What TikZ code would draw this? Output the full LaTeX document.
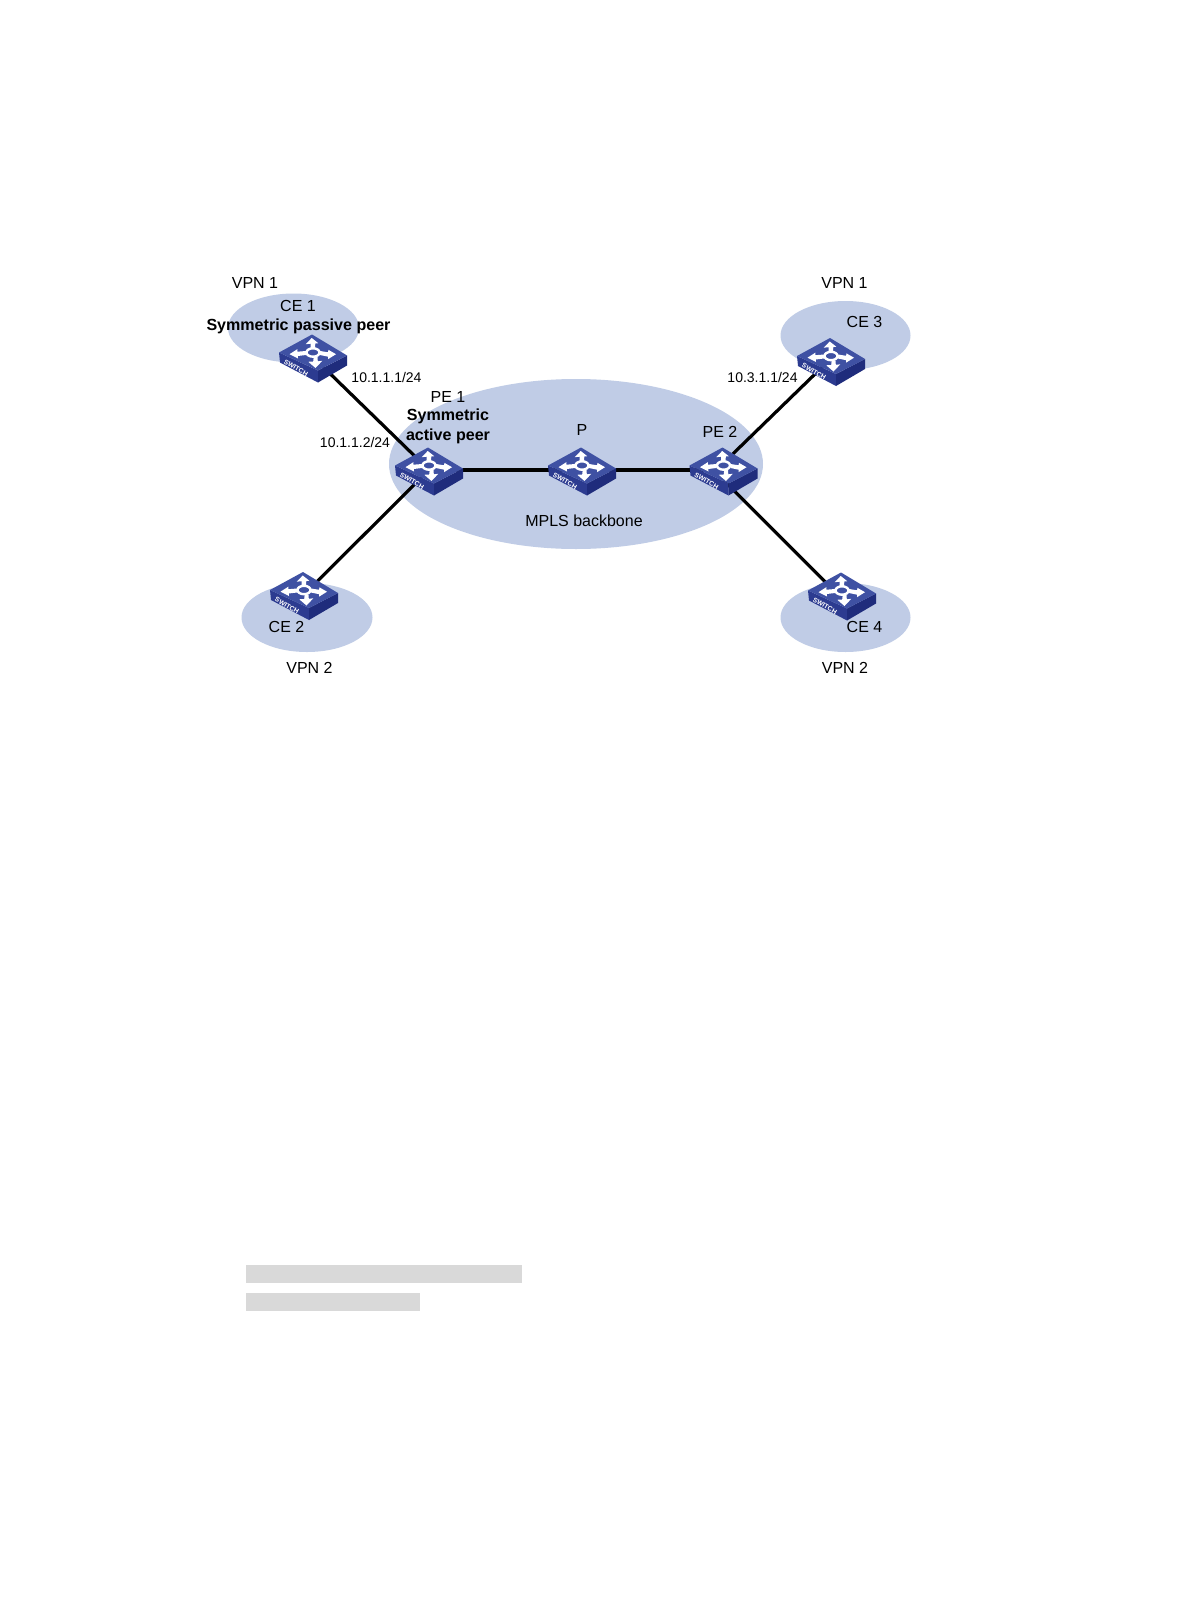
\documentclass[tikz,border=0pt]{standalone}
\usepackage{fontspec}
\setmainfont{Liberation Sans}
\definecolor{cloud}{HTML}{C0CCE6}
\definecolor{swtop}{HTML}{3F51A3}
\definecolor{swleft}{HTML}{2C3B90}
\definecolor{swright}{HTML}{1F2C7C}
\definecolor{barfill}{HTML}{D9D9D9}
\tikzset{
  link/.style={draw=black,line width=2.4pt},
  swnode/.style={shape=coordinate},
  lbl/.style={font=\fontsize{12}{14}\selectfont,inner sep=0pt,text height=9pt,text depth=2pt,align=center,yshift=-1.1pt},
  boldlbl/.style={font=\fontsize{12.05}{14}\selectfont\bfseries,inner sep=0pt,text height=9pt,text depth=2.5pt,yshift=-0.7pt},
  iplbl/.style={font=\fontsize{10.5}{12}\selectfont,inner sep=0pt,text height=8pt,text depth=2pt,yshift=-1pt},
  switch/.pic={
    \begin{scope}[shift={(0,-3.5)}]
    \fill[swleft] (-34,-1) -- (5,17) -- (5,29) -- (-33,9) -- cycle;
    \fill[swright] (34,2) -- (5,17) -- (5,29) -- (34,12) -- cycle;
    \fill[swtop] (-34,-1) -- (-1,-19) -- (34,2) -- (5,17) -- cycle;
    % up
    \fill[white] (-2.3,-5) -- (-2.5,-9.8) -- (-7.3,-9.3) -- (-1.3,-15.5) -- (5.3,-10.3) -- (2.3,-10) -- (2,-5) -- cycle;
    % down
    \fill[white] (0.7,3.5) -- (0.2,8) -- (-4.7,8.3) -- (2.5,14.5) -- (9.3,7.3) -- (4.8,7.8) -- (4.5,3.5) -- cycle;
    % left
    \fill[white] (-7,-2.5) -- (-15.5,-1.8) -- (-15.7,-4.3) -- (-23.5,0.7) -- (-15,5) -- (-15.2,2.5) -- (-7,1.5) -- cycle;
    % right
    \fill[white] (7,-2.5) -- (15.2,-1.2) -- (15.3,-3.7) -- (23,0.7) -- (15,5.7) -- (15,3.2) -- (7,1.5) -- cycle;
    \draw[white,line width=1.8pt] (0,-1) ellipse [x radius=6.5,y radius=4.2];
    \node[rotate=-30,text=white,inner sep=0pt,font=\fontsize{5}{5}\selectfont\bfseries] (-tag) at (-17,14.5) {SWITCH};
    \end{scope}
  }
}
\begin{document}
\begin{tikzpicture}[x=0.75pt,y=-0.75pt]
\useasboundingbox (0,0) rectangle (1190,1616);
\fill[white] (0,0) rectangle (1190,1616);
% clouds
\fill[cloud] (293.5,328) ellipse [x radius=65.5,y radius=34.5];
\fill[cloud] (845.5,335.5) ellipse [x radius=65,y radius=34.5];
\fill[cloud] (307,617.5) ellipse [x radius=65.5,y radius=34.5];
\fill[cloud] (845.5,617.5) ellipse [x radius=65,y radius=34.5];
\fill[cloud] (576,464) ellipse [x radius=187,y radius=85];
% switch positions
\node[swnode] (ce1) at (313,357) {};
\node[swnode] (pe1) at (429,470) {};
\node[swnode] (pc)  at (582,470) {};
\node[swnode] (pe2) at (723.5,470) {};
\node[swnode] (ce3) at (831,360.5) {};
\node[swnode] (ce2) at (304,594.5) {};
\node[swnode] (ce4) at (842,595) {};
% where the outer links really meet the switches
\coordinate (pe2up) at ([shift={(0,-7)}]pe2);
\coordinate (pe2dn) at ([shift={(0,10)}]pe2);
\coordinate (ce3port) at ([shift={(0,-2)}]ce3);
\coordinate (ce4port) at ([shift={(0,3.7)}]ce4);
% links
\draw[link] (ce1) -- (pe1);
\draw[link] (pe1) -- (ce2);
\draw[link] (pe1) -- (pc);
\draw[link] (pc) -- (pe2);
\draw[link] (pe2up) -- (ce3port);
\draw[link] (pe2dn) -- (ce4port);
% switches
\pic (swa) at (ce1) {switch};
\pic (swb) at (pe1) {switch};
\pic (swc) at (pc) {switch};
\pic (swd) at (pe2) {switch};
\pic (swe) at (ce3) {switch};
\pic (swf) at (ce2) {switch};
\pic (swg) at (ce4) {switch};
% labels
\node[lbl] (t1) at (255,282) {VPN 1};
\node[lbl] (t2) at (298,305) {CE 1};
\node[boldlbl] (t3) at (298.5,325) {Symmetric passive peer};
\node[iplbl] (t4) at (386.5,377) {10.1.1.1/24};
\node[lbl] (t5) at (448,396) {PE 1};
\node[boldlbl] (t6) at (448,415.5) {Symmetric};
\node[boldlbl] (t7) at (448,435) {active peer};
\node[iplbl] (t8) at (355,442) {10.1.1.2/24};
\node[lbl] (t9) at (582,429) {P};
\node[lbl] (t10) at (720,431) {PE 2};
\node[lbl] (t11) at (584,520.5) {MPLS backbone};
\node[iplbl] (t12) at (762.5,377) {10.3.1.1/24};
\node[lbl] (t13) at (844.5,282) {VPN 1};
\node[lbl] (t14) at (864.5,321.5) {CE 3};
\node[lbl] (t15) at (286.5,626.5) {CE 2};
\node[lbl] (t16) at (864.5,626.5) {CE 4};
\node[lbl] (t17) at (309.5,667.5) {VPN 2};
\node[lbl] (t18) at (845,667.5) {VPN 2};
% grey bars
\fill[barfill] (246,1265) rectangle (522,1282.5);
\fill[barfill] (246,1293) rectangle (420,1310.5);
\end{tikzpicture}
\end{document}
